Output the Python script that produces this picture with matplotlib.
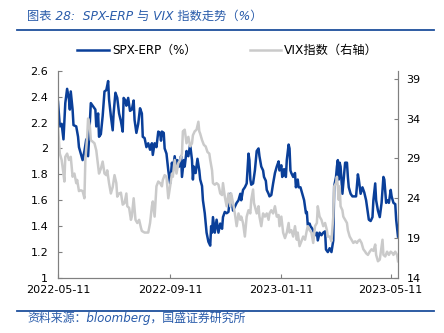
import matplotlib
matplotlib.use("Agg")
import matplotlib.pyplot as plt
import pandas as pd
from matplotlib.lines import Line2D

plt.rcParams['font.family'] = ['DejaVu Sans', 'Noto Sans CJK SC']

start = pd.Timestamp("2022-05-11")

erp_days = [0, 2, 4, 6, 8, 10, 12, 13, 14, 16, 17, 20, 22, 23, 25, 27, 29, 31, 33, 34,
            36, 39, 41, 42, 44, 45, 47, 49, 51, 53, 55, 56, 58, 60, 61, 63, 65, 67, 69, 71,
            72, 74, 75, 77, 79, 81, 83, 84, 86, 88, 90, 92, 93, 95,
            97, 99, 101, 103, 104, 106, 108, 110, 112, 113, 114, 116, 117, 119, 121, 123,
            125, 126, 128, 130, 131, 133, 135, 136, 138, 139, 141, 143, 145, 147, 148, 149,
            151, 153, 155, 156, 158, 159, 161, 163, 165, 167, 168, 169, 170, 172, 174, 176,
            178, 180, 181,
            183, 185, 187, 189, 190, 192, 194, 196, 198, 200, 201, 203, 205, 207, 209, 210,
            211, 212, 214, 216, 218, 220, 221, 223, 225, 226, 228, 229, 231, 232, 234, 236,
            238, 240, 242, 243, 245, 246, 248, 250, 251, 253, 254, 255, 256, 258, 260, 261,
            263, 264, 266, 268, 270, 272, 273, 274, 276, 277, 279,
            282, 284, 285, 287, 289, 291, 293, 294, 296, 298, 300, 302, 303, 305, 306, 307,
            308, 309, 310, 312, 313, 315, 317, 318, 319, 321, 323, 325, 327, 329, 330, 332,
            334, 336, 338, 340, 341, 343, 345, 346, 348, 349, 351, 353, 355, 357, 358, 360,
            361, 363, 365, 366, 368, 370, 371, 373]
erp_vals = [2.36, 2.17, 2.19, 2.07, 2.35, 2.46, 2.38, 2.30, 2.44, 2.30, 2.18, 2.17, 2.09, 2.01,
            1.96, 1.91, 1.98, 2.07, 1.94, 2.07, 2.35, 2.32, 2.30, 2.17, 2.27, 2.09, 2.11, 2.25,
            2.44, 2.45, 2.52, 2.38, 2.25, 2.14, 2.27, 2.43, 2.39, 2.27, 2.21, 2.13, 2.39, 2.37,
            2.33, 2.39, 2.29, 2.30, 2.37, 2.22, 2.12, 2.19, 2.31, 2.27, 2.09, 2.08,
            2.01, 2.04, 1.99, 2.04, 1.95, 2.04, 2.01, 2.13, 2.12, 2.06, 2.13, 2.12, 2.00, 1.96,
            1.83, 1.73, 1.89, 1.83, 1.94, 1.83, 1.91, 1.86, 1.94, 1.78, 1.91, 1.86, 1.98, 1.94,
            2.03, 1.91, 1.76, 1.86, 1.81, 1.92, 1.83, 1.76, 1.71, 1.60, 1.50, 1.35, 1.28, 1.25,
            1.40, 1.35, 1.47, 1.35, 1.45, 1.35, 1.42, 1.38, 1.47,
            1.51, 1.50, 1.51, 1.65, 1.63, 1.52, 1.55, 1.58, 1.60, 1.65, 1.60, 1.68, 1.70, 1.73,
            1.96, 1.91, 1.76, 1.72, 1.73, 1.83, 1.98, 2.00, 1.94, 1.86, 1.83, 1.78, 1.75, 1.68,
            1.65, 1.63, 1.64, 1.73, 1.81, 1.86, 1.90, 1.83, 1.87, 1.78, 1.84, 1.78, 1.91, 2.03,
            2.00, 1.83, 1.81, 1.78, 1.81, 1.70, 1.76, 1.70, 1.70, 1.65, 1.60, 1.50, 1.51, 1.41,
            1.42, 1.40, 1.38,
            1.33, 1.35, 1.29, 1.35, 1.33, 1.35, 1.36, 1.22, 1.20, 1.23, 1.20, 1.29, 1.71, 1.78,
            1.86, 1.91, 1.76, 1.89, 1.86, 1.65, 1.73, 1.89, 1.89, 1.78, 1.70, 1.65, 1.63, 1.63,
            1.63, 1.80, 1.76, 1.65, 1.70, 1.66, 1.60, 1.50, 1.45, 1.44, 1.47, 1.60, 1.73, 1.60,
            1.52, 1.47, 1.58, 1.78, 1.76, 1.58, 1.60, 1.58, 1.68, 1.63, 1.58, 1.57, 1.45, 1.32]

vix_days = [0, 2, 4, 6, 7, 8, 10, 12, 14, 16, 18, 20, 21, 23, 25, 27, 29, 30, 32, 33,
            35, 36, 38, 40, 42, 44, 45, 47, 49, 51, 53, 54, 56, 58, 60, 62, 64, 65, 67, 69,
            71, 73, 75, 76, 78, 80, 81, 83, 85, 87, 89, 91, 92, 95,
            97, 99, 101, 103, 104, 106, 108, 110, 112, 114, 115, 117, 119, 121, 123, 125,
            126, 128, 130, 132, 134, 136, 137, 139, 141, 143, 145, 147, 148, 150, 152, 154,
            155, 156, 158, 160, 162, 164, 166, 167, 169, 170, 172, 174, 176, 178, 180, 181,
            183, 185, 187,
            189, 190, 192, 194, 196, 198, 200, 201, 203, 205, 207, 209, 211, 212, 214, 215,
            217, 218, 220, 221, 223, 225, 227, 229, 231, 232, 234, 236, 238, 240, 242, 243,
            245, 247, 249, 251, 253, 254, 256, 258, 260, 262, 263, 265, 267, 269, 271, 273,
            274, 276, 278, 280, 282,
            284, 285, 287, 289, 291, 293, 295, 296, 298, 300, 302, 303, 305, 306, 307, 308,
            309, 310, 312, 313, 315, 317, 318, 320, 322, 324, 326, 328, 329, 331, 333, 335,
            337, 338, 340, 342, 344, 346, 348, 349, 351, 353, 355, 356, 357, 359, 361, 363,
            365, 367, 368, 370, 372, 373]
vix_vals = [33.0, 29.6, 28.8, 27.1, 26.1, 29.2, 29.6, 28.8, 29.2, 26.7, 27.1, 25.9, 26.3, 24.9,
            25.0, 24.9, 24.0, 28.8, 31.7, 34.0, 33.0, 31.3, 31.1, 30.9, 30.0, 28.0, 27.1, 27.7,
            28.6, 27.1, 26.9, 27.5, 25.9, 24.6, 25.4, 26.9, 25.9, 24.2, 24.6, 24.7, 23.2, 23.4,
            24.6, 23.0, 22.8, 21.3, 21.7, 24.0, 21.3, 20.9, 21.3, 20.3, 19.9, 19.7,
            19.7, 19.7, 20.9, 23.0, 23.6, 21.7, 25.5, 26.1, 25.9, 25.5, 26.3, 26.9, 26.7, 24.0,
            25.5, 27.1, 26.7, 28.8, 27.1, 28.4, 28.8, 29.6, 32.4, 32.6, 30.9, 31.7, 30.5, 30.9,
            31.9, 32.4, 32.6, 33.6, 32.4, 32.1, 31.3, 30.7, 30.5, 29.8, 29.6, 28.8, 27.5, 25.9,
            25.7, 25.9, 25.7, 24.6, 24.4, 25.9, 24.2, 23.0, 24.6,
            23.0, 24.6, 23.4, 22.1, 20.5, 22.1, 21.3, 21.7, 20.9, 19.2, 21.7, 22.5, 22.1, 23.8,
            25.1, 23.4, 22.5, 22.1, 23.0, 21.7, 20.5, 22.1, 21.7, 22.1, 21.3, 22.1, 22.5, 22.1,
            23.0, 21.7, 21.9, 20.5, 21.7, 19.7, 19.0, 19.7, 20.9, 19.7, 20.0, 19.2, 20.5, 18.8,
            19.7, 18.0, 18.6, 19.2, 18.8, 20.0, 20.5, 20.0, 19.7, 18.4, 20.5,
            20.9, 23.0, 21.7, 21.3, 20.5, 20.9, 20.0, 19.2, 19.2, 18.6, 21.7, 25.5, 25.9, 26.7,
            25.5, 23.8, 25.5, 23.0, 22.5, 21.7, 21.3, 20.9, 20.0, 19.2, 18.8, 18.4, 18.6, 18.4,
            18.6, 18.8, 18.4, 17.6, 17.3, 17.1, 16.9, 17.3, 17.6, 17.4, 18.2, 16.9, 16.1, 16.3,
            18.0, 18.8, 16.9, 16.7, 17.3, 16.9, 17.3, 17.1, 16.9, 17.3, 16.9, 16.1]

xtick_labels = ["2022-05-11", "2022-09-11", "2023-01-11", "2023-05-11"]
left_ticks = [1, 1.2, 1.4, 1.6, 1.8, 2, 2.2, 2.4, 2.6]
left_tick_labels = ["1", "1.2", "1.4", "1.6", "1.8", "2", "2.2", "2.4", "2.6"]
right_ticks = [14, 19, 24, 29, 34, 39]

erp_dates = [start + pd.Timedelta(days=d) for d in erp_days]
vix_dates = [start + pd.Timedelta(days=d) for d in vix_days]
xticks = [pd.Timestamp(s) for s in xtick_labels]

W, H = 444, 333
fig = plt.figure(figsize=(W / 100, H / 100), dpi=100)
ax = fig.add_axes([58 / W, 1 - 278 / H, (398 - 58) / W, (278 - 70.7) / H])
ax2 = ax.twinx()

blue = "#0A3F99"
grey = "#CACACA"
spine_c = "#808080"

ax.plot(erp_dates, erp_vals, color=blue, lw=1.8, solid_joinstyle='round')
ax2.plot(vix_dates, vix_vals, color=grey, lw=1.8, solid_joinstyle='round')

ax.set_xlim(start, start + pd.Timedelta(days=373))
ax.set_ylim(1, 2.6)
ax2.set_ylim(14, 40)
ax.set_yticks(left_ticks)
ax.set_yticklabels(left_tick_labels)
ax2.set_yticks(right_ticks)
ax.set_xticks(xticks)
ax.set_xticklabels(xtick_labels)

for a in (ax, ax2):
    a.spines['top'].set_visible(False)
    for s in ('left', 'right', 'bottom'):
        a.spines[s].set_color(spine_c)
        a.spines[s].set_linewidth(0.8)
    a.tick_params(direction='in', length=3, width=0.8, color=spine_c,
                  labelsize=8, labelcolor='#000000')
ax.tick_params(axis='y', pad=7)
ax2.tick_params(axis='y', pad=6)
ax.tick_params(axis='x', pad=5)

fam = ['DejaVu Sans', 'Noto Sans CJK SC']
# title
fig.text(27 / W, 1 - 16 / H, "图表 28:  SPX-ERP 与 VIX 指数走势（%）", color="#2A5CAA",
         fontsize=8.8, style='italic', va='center', ha='left', family=fam)
fig.add_artist(Line2D([17 / W, 434 / W], [1 - 29.5 / H, 1 - 29.5 / H], color="#1E4F9C", lw=1.3))
fig.add_artist(Line2D([17 / W, 434 / W], [1 - 310.5 / H, 1 - 310.5 / H], color="#1E4F9C", lw=1.3))
fig.text(27 / W, 1 - 318.5 / H, "资料来源：bloomberg，国盛证券研究所", color="#2A5CAA",
         fontsize=8.6, style='italic', va='center', ha='left', family=fam)

# legend
ly = 1 - 50 / H
fig.add_artist(Line2D([77 / W, 109 / W], [ly, ly], color=blue, lw=1.8))
fig.text(112 / W, ly, "SPX-ERP（%）", fontsize=8.6, va='center', ha='left', family=fam)
fig.add_artist(Line2D([250 / W, 281 / W], [ly, ly], color=grey, lw=1.8))
fig.text(284 / W, ly, "VIX指数（右轴）", fontsize=8.8, va='center', ha='left', family=fam)

fig.savefig("out.png", dpi=100)
